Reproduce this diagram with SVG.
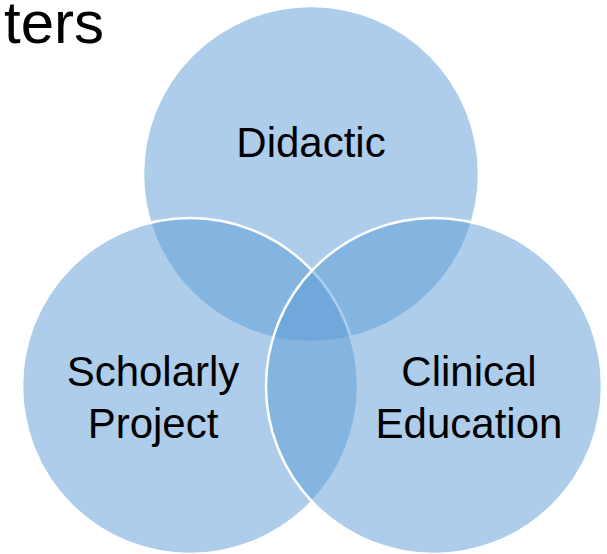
<svg xmlns="http://www.w3.org/2000/svg" width="607" height="554" viewBox="0 0 607 554">
<style>
.c{fill:#5B9BD5;fill-opacity:0.5;stroke:#FFFFFF;stroke-width:2.5}
.t{font-family:"Liberation Sans",Arial,sans-serif;font-size:42px;fill:#000;text-anchor:middle}
</style>
<rect width="607" height="554" fill="#FFFFFF"/>
<text x="104" y="43" font-family="Liberation Sans, Arial, sans-serif" font-size="60" text-anchor="end" fill="#000">ters</text>
<g id="didactic"><circle class="c" cx="311" cy="174" r="168"/></g>
<g id="scholarly"><circle class="c" cx="190" cy="386" r="168"/></g>
<g id="clinical"><circle class="c" cx="434" cy="386" r="168"/></g>
<g id="labels">
<text class="t" x="311" y="157">Didactic</text>
<text class="t" x="153" y="386">Scholarly</text>
<text class="t" x="153" y="438">Project</text>
<text class="t" x="469" y="386">Clinical</text>
<text class="t" x="469" y="438">Education</text>
</g>
<g id="connectors"/>
</svg>
